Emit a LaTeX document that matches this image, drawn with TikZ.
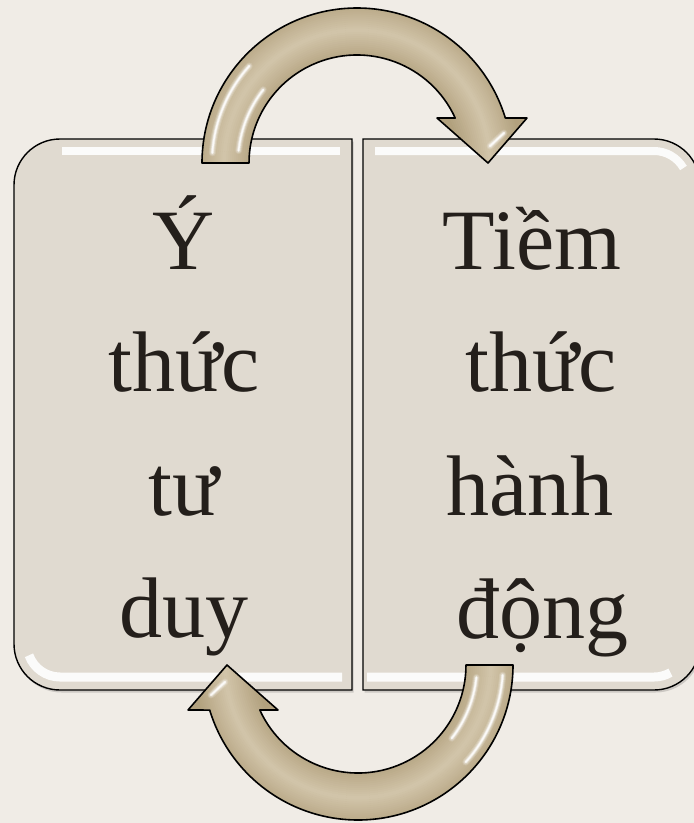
\documentclass[tikz,border=0pt]{standalone}
\usepackage{fontspec}
\setmainfont{Liberation Serif}
\definecolor{bgc}{RGB}{240,236,230}
\definecolor{boxc}{RGB}{224,218,208}
\definecolor{arrowbase}{RGB}{196,181,150}
\definecolor{arrowdark}{RGB}{178,161,126}
\definecolor{arrowlight}{RGB}{210,197,170}
\definecolor{textc}{RGB}{36,31,27}
\tikzset{
  txt/.style={anchor=base, inner sep=0pt, text=textc, font=\fontsize{86}{100}\selectfont},
  boxline/.style={draw=black, line width=1.4pt, fill=boxc},
  hilite/.style={draw=white, line width=8pt, opacity=0.9},
  streak/.style={draw=white, line cap=round},
  arcarrowpath/.style={insert path={
    (202,163) arc[start angle=180, end angle=343.1, radius=155]
    -- (527,118) -- (488,163) -- (437,118) -- (455.2,118)
    arc[start angle=335.38, end angle=180, radius=108] -- cycle}},
  leftboxpath/.style={insert path={
    (352,139) -- (60,139) arc[start angle=270, end angle=180, radius=46]
    -- (14,644) arc[start angle=180, end angle=90, radius=46] -- (352,690) -- cycle}},
  rightboxpath/.style={insert path={
    (363,139) -- (654,139) arc[start angle=270, end angle=360, radius=46]
    -- (700,644) arc[start angle=0, end angle=90, radius=46] -- (363,690) -- cycle}},
}
\begin{document}
\begin{tikzpicture}[x=1pt,y=-1pt]
\useasboundingbox (0,0) rectangle (694,823);
\fill[bgc] (0,0) rectangle (694,823);
\clip (0,0) rectangle (694,823);

% shadows of boxes
\begin{scope}[xshift=1.5pt,yshift=-2.5pt]
  \fill[black,opacity=0.15][leftboxpath];
  \fill[black,opacity=0.15][rightboxpath];
\end{scope}

% boxes
\path[boxline][leftboxpath];
\path[boxline][rightboxpath];

% box highlights
\begin{scope}
  \clip[leftboxpath];
  \draw[hilite] (62,151) -- (340,151);
  \draw[hilite,line width=9pt] (342,677) -- (60,677) arc[start angle=90, end angle=160, radius=33];
\end{scope}
\begin{scope}
  \clip[rightboxpath];
  \draw[hilite] (375,151) -- (654,151) arc[start angle=270, end angle=330, radius=34];
  \draw[hilite,line width=9pt] (367,677) -- (654,677) arc[start angle=90, end angle=60, radius=33];
\end{scope}

% text
\node[txt] (l1) at (184,269) {Ý};
\node[txt] (l2) at (184,391) {thức};
\node[txt] (l3) at (184,515) {tư};
\node[txt] (l4) at (184,637) {duy};
\node[txt] (r1) at (532,269) {Tiềm};
\node[txt] (r2) at (541,391) {thức};
\node[txt] (r3) at (530,515) {hành};
\node[txt] (r4) at (542,638) {động};

% circular arrows
\foreach \rot in {0,180} {
  \begin{scope}[rotate around={\rot:(357.5,414)}]
    \fill[arrowbase][arcarrowpath];
    \begin{scope}
      \clip[arcarrowpath];
      \foreach \r in {84,86,...,182} {
        \pgfmathsetmacro\tt{max(0,100-abs(\r-133)*3.2)}
        \draw[line width=2.4pt, color=arrowlight!\tt!arrowdark] (357,163) circle[radius=\r];
      }
      \foreach \w/\o in {7/0.15,5/0.25,3/0.5,1.5/0.8} {
        \draw[streak, line width=\w pt, opacity=\o]
          ([shift={(357,163)}]184:145) arc[start angle=184, end angle=222, radius=145];
        \draw[streak, line width=\w pt, opacity=\o]
          ([shift={(357,163)}]186:119) arc[start angle=186, end angle=218, radius=119];
        \draw[streak, line width=\w pt, opacity=\o] (490,146) -- (504,133);
      }
    \end{scope}
    \draw[black, line width=1.6pt, line join=round][arcarrowpath];
  \end{scope}
}
\end{tikzpicture}
\end{document}
